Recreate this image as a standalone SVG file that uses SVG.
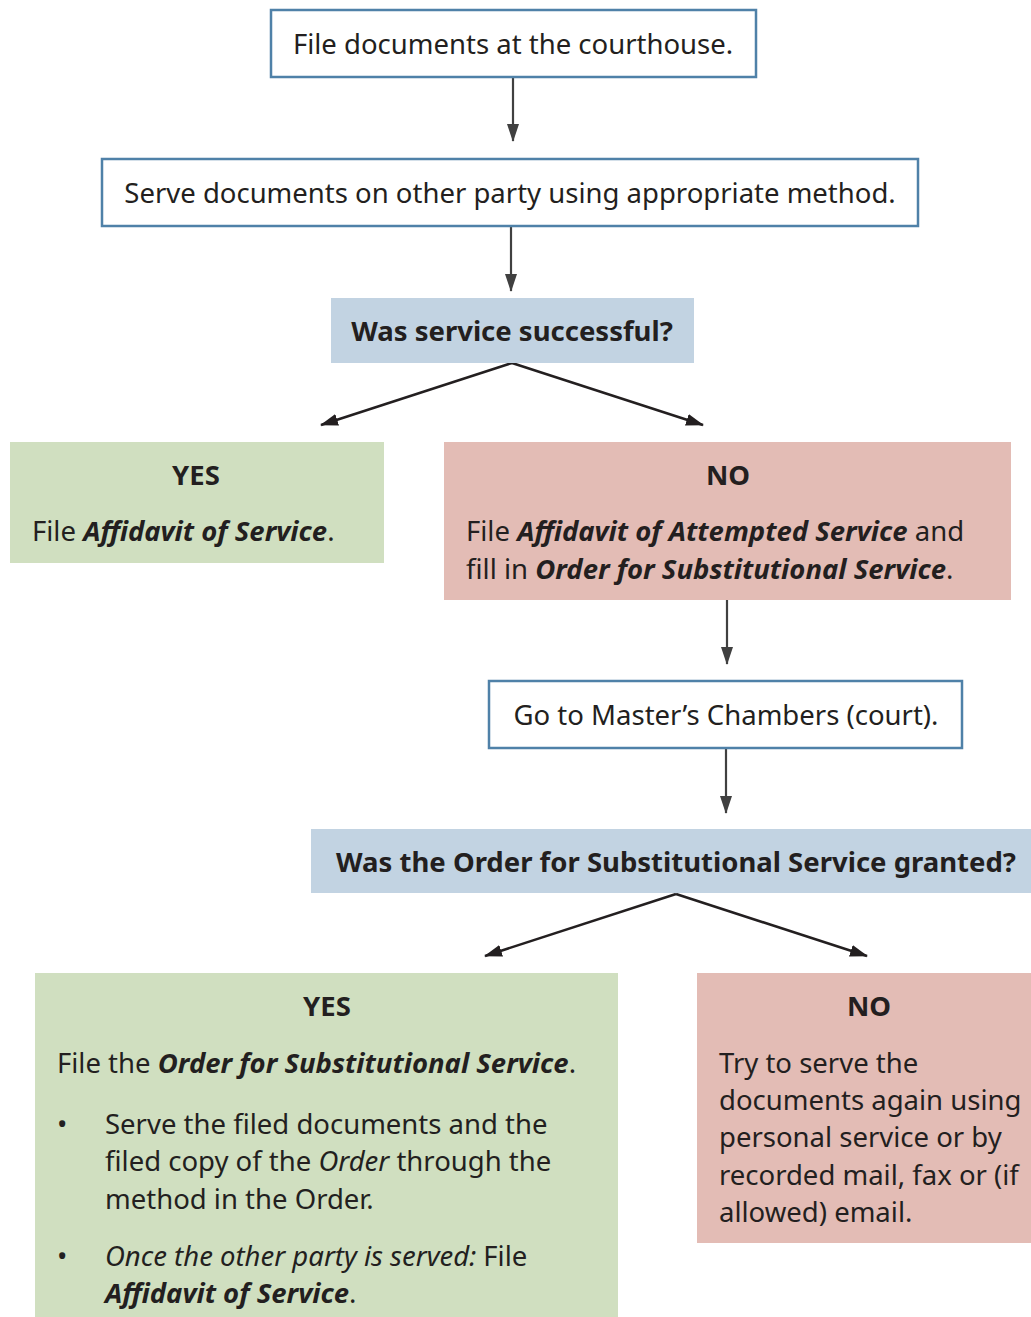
<svg xmlns="http://www.w3.org/2000/svg" width="1031" height="1317" viewBox="0 0 1031 1317">
<defs>
<style>
.t{font-family:"Noto Sans","Open Sans","Liberation Sans",sans-serif;font-size:27.5px;fill:#231f20}
.b{font-weight:bold}
.i{font-style:italic}
.bi{font-style:italic;font-weight:bold}
.box{fill:#fff;stroke:#4f81a8;stroke-width:2.5}
.dec{fill:#c2d3e2}
.yes{fill:#d0dfc0}
.no{fill:#e3bcb5}
.v{stroke:#404040;stroke-width:2.2;fill:none}
.d{stroke:#231f20;stroke-width:2.5;fill:none}
</style>
<marker id="av" viewBox="0 0 18 12" refX="17" refY="6" markerWidth="18" markerHeight="12" markerUnits="userSpaceOnUse" orient="auto"><path d="M0,0 L18,6 L0,12 Z" fill="#404040"/></marker>
<marker id="ad" viewBox="0 0 18 12" refX="17" refY="6" markerWidth="18" markerHeight="12" markerUnits="userSpaceOnUse" orient="auto"><path d="M0,0 L18,6 L0,12 Z" fill="#231f20"/></marker>
</defs>
<rect width="1031" height="1317" fill="#fff"/>
<g id="connectors">
<line class="v" x1="513" y1="77" x2="513" y2="141" marker-end="url(#av)"/>
<line class="v" x1="511" y1="226" x2="511" y2="291" marker-end="url(#av)"/>
<line class="d" x1="512" y1="363" x2="321" y2="425" marker-end="url(#ad)"/>
<line class="d" x1="512" y1="363" x2="703" y2="425" marker-end="url(#ad)"/>
<line class="v" x1="727" y1="600" x2="727" y2="664" marker-end="url(#av)"/>
<line class="v" x1="726" y1="748" x2="726" y2="813" marker-end="url(#av)"/>
<line class="d" x1="676" y1="894" x2="485" y2="956" marker-end="url(#ad)"/>
<line class="d" x1="676" y1="894" x2="867" y2="956" marker-end="url(#ad)"/>
</g>
<g id="n1">
<rect class="box" x="271" y="10" width="485" height="67"/>
<text class="t" x="513" y="54" text-anchor="middle">File documents at the courthouse.</text>
</g>
<g id="n2">
<rect class="box" x="102" y="159" width="816" height="67"/>
<text class="t" x="510" y="203" text-anchor="middle">Serve documents on other party using appropriate method.</text>
</g>
<g id="q1">
<rect class="dec" x="331" y="298" width="363" height="65"/>
<text class="t b" x="512" y="341" text-anchor="middle">Was service successful?</text>
</g>
<g id="yes1">
<rect class="yes" x="10" y="442" width="374" height="121"/>
<text class="t b" x="196" y="485" text-anchor="middle">YES</text>
<text class="t" x="32" y="541">File <tspan class="bi">Affidavit of Service</tspan>.</text>
</g>
<g id="no1">
<rect class="no" x="444" y="442" width="567" height="158"/>
<text class="t b" x="728" y="485" text-anchor="middle">NO</text>
<text class="t" x="466" y="541">File <tspan class="bi">Affidavit of Attempted Service</tspan> and</text>
<text class="t" x="466" y="579">fill in <tspan class="bi">Order for Substitutional Service</tspan>.</text>
</g>
<g id="n3">
<rect class="box" x="489" y="681" width="473" height="67"/>
<text class="t" x="726" y="725" text-anchor="middle">Go to Master’s Chambers (court).</text>
</g>
<g id="q2">
<rect class="dec" x="311" y="829" width="720" height="64"/>
<text class="t b" x="676" y="872" text-anchor="middle">Was the Order for Substitutional Service granted?</text>
</g>
<g id="yes2">
<rect class="yes" x="35" y="973" width="583" height="344"/>
<text class="t b" x="327" y="1016" text-anchor="middle">YES</text>
<text class="t" x="57" y="1073">File the <tspan class="bi">Order for Substitutional Service</tspan>.</text>
<text class="t" x="57" y="1134">•</text>
<text class="t" x="105" y="1134">Serve the filed documents and the</text>
<text class="t" x="105" y="1171">filed copy of the <tspan class="i">Order</tspan> through the</text>
<text class="t" x="105" y="1209">method in the Order.</text>
<text class="t" x="57" y="1266">•</text>
<text class="t" x="105" y="1266"><tspan class="i">Once the other party is served:</tspan> File</text>
<text class="t" x="105" y="1303"><tspan class="bi">Affidavit of Service</tspan>.</text>
</g>
<g id="no2">
<rect class="no" x="697" y="973" width="334" height="270"/>
<text class="t b" x="869" y="1016" text-anchor="middle">NO</text>
<text class="t" x="719" y="1073">Try to serve the</text>
<text class="t" x="719" y="1110">documents again using</text>
<text class="t" x="719" y="1147">personal service or by</text>
<text class="t" x="719" y="1185">recorded mail, fax or (if</text>
<text class="t" x="719" y="1222">allowed) email.</text>
</g>
</svg>
